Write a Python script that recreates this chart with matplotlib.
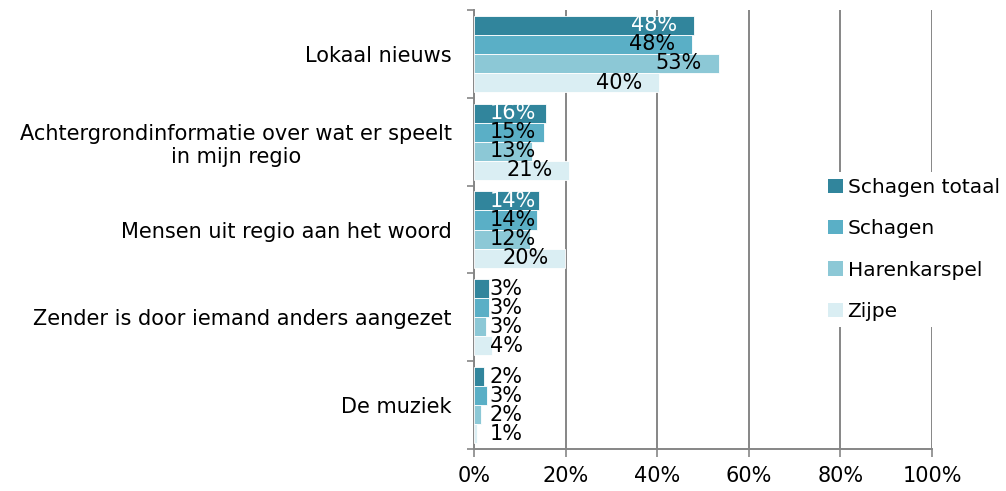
import numpy as np
import matplotlib
matplotlib.use("Agg")
import matplotlib.pyplot as plt


categories = [
    "Lokaal nieuws",
    "Achtergrondinformatie over wat er speelt\nin mijn regio",
    "Mensen uit regio aan het woord",
    "Zender is door iemand anders aangezet",
    "De muziek",
]
series_names = ["Schagen totaal", "Schagen", "Harenkarspel", "Zijpe"]
schagen_totaal = [48.0, 15.7, 14.2, 3.3, 2.2]
schagen = [47.6, 15.3, 13.8, 3.3, 2.8]
harenkarspel = [53.4, 12.6, 12.2, 2.6, 1.5]
zijpe = [40.4, 20.7, 19.9, 3.9, 0.7]
x_ticks = [0, 20, 40, 60, 80, 100]

colors = ["#31859C", "#5AAFC6", "#8CC8D6", "#DAEEF3"]
FS = 15


def main():
    plt.rcParams["font.family"] = ["DejaVu Sans"]
    fig = plt.figure(figsize=(10.06, 4.91), dpi=100)
    ax = fig.add_axes([0.4712, 0.0855, 0.4553, 0.894])

    series = [schagen_totaal, schagen, harenkarspel, zijpe]
    n = len(categories)
    centers = np.arange(n)[::-1].astype(float)
    step = 0.217
    offsets = (np.arange(4) - 1.5) * step

    for i, (name, vals) in enumerate(zip(series_names, series)):
        ys = centers - offsets[i]
        ax.barh(ys, vals, height=step, color=colors[i], edgecolor="white",
                linewidth=0.6, label=name, zorder=3)
        for y, v in zip(ys, vals):
            lab = f"{v:.0f}%"
            w = 10.0 if len(lab) == 3 else 7.2
            x = max(v - 3.7 - w, 3.4)
            on_bar = x + w * 0.5 < v
            col = "white" if (i == 0 and on_bar) else "black"
            ax.text(x, y, lab, ha="left", va="center", fontsize=FS,
                    color=col, zorder=4)

    ax.set_xlim(0, 100)
    ax.set_ylim(-0.5, n - 0.5)
    ax.set_xticks(x_ticks)
    ax.set_xticklabels([f"{t}%" for t in x_ticks], fontsize=FS)
    ax.set_yticks(centers)
    ax.set_yticklabels(categories, fontsize=FS, multialignment="center")
    ax.set_yticks(np.arange(n + 1) - 0.5, minor=True)
    ax.tick_params(axis="y", which="major", length=0, pad=16)
    ax.tick_params(axis="y", which="minor", length=5, color="#868686",
                   width=1.2, direction="out")
    ax.tick_params(axis="x", length=6, color="#868686", width=1.2,
                   direction="out", pad=6)

    ax.grid(axis="x", color="#868686", linewidth=1.4, zorder=0)
    for side in ["top", "right"]:
        ax.spines[side].set_visible(False)
    for side in ["left", "bottom"]:
        ax.spines[side].set_color("#868686")
        ax.spines[side].set_linewidth(1.4)

    leg = fig.legend(loc="center left", bbox_to_anchor=(0.8075, 0.492),
                     fontsize=14.5, frameon=True, framealpha=1,
                     edgecolor="white", fancybox=False, labelspacing=1.1,
                     handlelength=0.7, handleheight=0.7,
                     handletextpad=0.25, borderpad=0.3)
    leg.get_frame().set_linewidth(0)
    for h in leg.legend_handles:
        h.set_edgecolor("none")

    fig.savefig("out.png", dpi=100)


if __name__ == "__main__":
    main()
